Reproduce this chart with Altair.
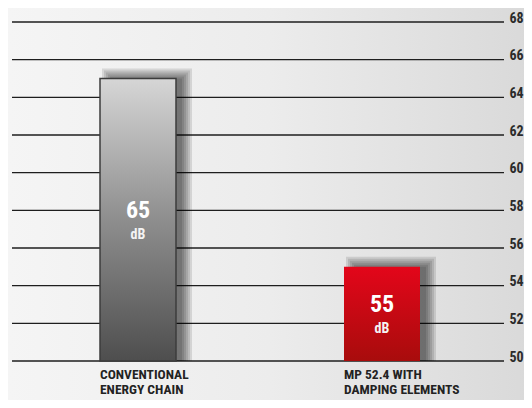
import altair as alt
import pandas as pd

# ---- data ----
keys = ["conv", "mp"]
categories = ["CONVENTIONAL\nENERGY CHAIN", "MP 52.4 WITH\nDAMPING ELEMENTS"]
values = [65, 55]
units = ["dB", "dB"]
tick_values = [50, 52, 54, 56, 58, 60, 62, 64, 66, 68]
y_min, y_max = 50, 68

FONT = "Liberation Sans Narrow, Roboto Condensed, Noto Sans Condensed, Roboto, sans-serif"
BAR_W = 76

df = pd.DataFrame({
    "key": keys,
    "label": categories,
    "value": values,
    "base": [y_min] * len(values),
    "mid": [(v + y_min) / 2 for v in values],
    "num": [str(v) for v in values],
    "unit": units,
})
grid_df = pd.DataFrame({"tick": tick_values})
bg_df = pd.DataFrame({"a": [0]})

x_scale = alt.Scale(domain=keys, paddingInner=0, paddingOuter=0, range=[4, 492])
y_scale = alt.Scale(domain=[y_min, y_max], nice=False, zero=False)
y_axis = alt.Axis(orient="right", values=tick_values, grid=False, domain=False,
                  ticks=False, labelFont=FONT, labelFontSize=14,
                  labelFontWeight="bold", labelColor="#2b2b2b", labelPadding=5,
                  labelBaseline="alphabetic", title=None, zindex=1)


def X():
    return alt.X("key:N", scale=x_scale, axis=None)


def Y(field):
    return alt.Y(f"{field}:Q", scale=y_scale, axis=y_axis)


bg_grad = alt.Gradient(gradient="linear", x1=0, x2=1, y1=0, y2=0,
                       stops=[alt.GradientStop(color="#f5f5f5", offset=0),
                              alt.GradientStop(color="#ececec", offset=0.5),
                              alt.GradientStop(color="#d9d9d9", offset=1)])
background = alt.Chart(bg_df).mark_rect(color=bg_grad).encode(
    x=alt.value(-4), x2=alt.value(520), y=alt.value(-14), y2=alt.value(400))

grid = alt.Chart(grid_df).mark_rule(color="#1e1e1e", strokeWidth=1.3).encode(
    y=Y("tick"))

shadows = []
for e in [-3, -1, 1, 3, 5, 7]:
    shadows.append(
        alt.Chart(df).mark_bar(color="black", opacity=0.11, width=BAR_W + 2 * e,
                               xOffset=9, yOffset=-3 - e).encode(
            x=X(), y=Y("value"), y2="base"))

gray_grad = alt.Gradient(gradient="linear", x1=0, x2=0, y1=0, y2=1,
                         stops=[alt.GradientStop(color="#d6d6d6", offset=0),
                                alt.GradientStop(color="#8e8e8e", offset=0.5),
                                alt.GradientStop(color="#4e4e4e", offset=1)])
red_grad = alt.Gradient(gradient="linear", x1=0, x2=0, y1=0, y2=1,
                        stops=[alt.GradientStop(color="#e3061a", offset=0),
                               alt.GradientStop(color="#a80c0c", offset=1)])

bar_gray = alt.Chart(df).transform_filter(alt.datum.key == "conv").mark_bar(
    color=gray_grad, width=BAR_W, stroke="#3c3c3c", strokeWidth=1.5).encode(
    x=X(), y=Y("value"), y2="base")
bar_red = alt.Chart(df).transform_filter(alt.datum.key == "mp").mark_bar(
    color=red_grad, width=BAR_W).encode(
    x=X(), y=Y("value"), y2="base")

num_text = alt.Chart(df).mark_text(font=FONT, fontSize=24, fontWeight="bold",
                                   color="white", baseline="middle", dy=-9).encode(
    x=X(), y=Y("mid"), text="num:N")
unit_text = alt.Chart(df).mark_text(font=FONT, fontSize=14, fontWeight="bold",
                                    color="#f4f4f4", baseline="middle", dy=15).encode(
    x=X(), y=Y("mid"), text="unit:N")

cat_text = alt.Chart(df).mark_text(font=FONT, fontSize=13.5, fontWeight="bold",
                                   color="#222222", align="left", baseline="top",
                                   lineBreak="\n", lineHeight=15,
                                   dx=-BAR_W / 2, dy=7).encode(
    x=X(), y=Y("base"), text="label:N")

chart = alt.layer(background, grid, *shadows, bar_gray, bar_red,
                  num_text, unit_text, cat_text).properties(
    width=492, height=339,
    padding={"left": 4, "top": 14, "right": 20, "bottom": 39},
    autosize=alt.AutoSizeParams(type="none"),
    background="#e9e9e9",
).configure_view(stroke=None)

chart.save("out.html", embed_options={"renderer": "svg", "actions": False})
